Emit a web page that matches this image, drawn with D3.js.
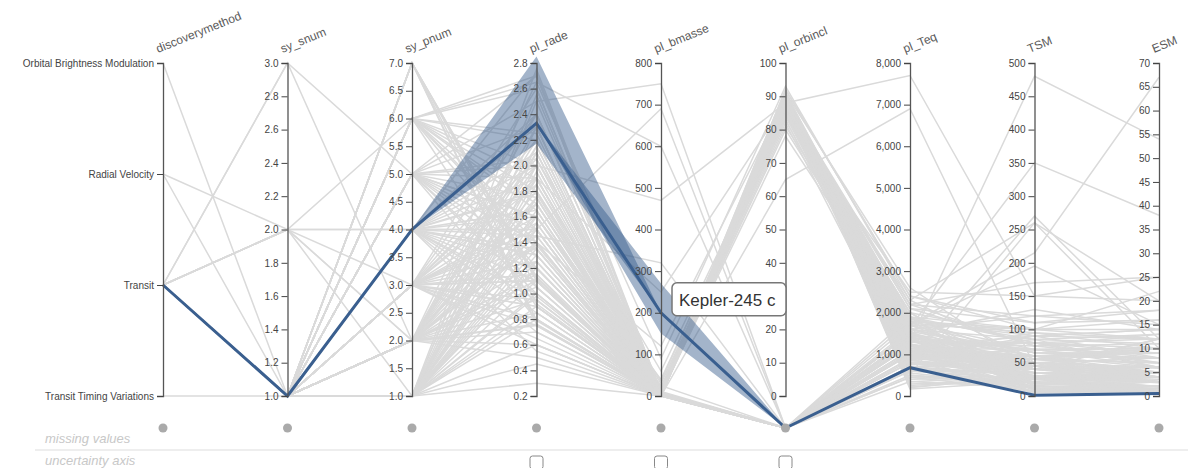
<!DOCTYPE html>
<html>
<head>
<meta charset="utf-8">
<script src="https://cdn.jsdelivr.net/npm/d3@7"></script>
<style>
  body { margin: 0; background: #fff; }
  svg { display: block; font-family: "Liberation Sans", Arial, sans-serif; }
</style>
</head>
<body>
<div id="my_dataviz"></div>
<script>
// axes, left to right
var dims = ["discoverymethod", "sy_snum", "sy_pnum", "pl_rade", "pl_bmasse", "pl_orbincl", "pl_Teq", "TSM", "ESM"];
var discoveryMethods = ["Orbital Brightness Modulation", "Radial Velocity", "Transit", "Transit Timing Variations"];

// tick labels per axis
var snumTicks = [1.0, 1.2, 1.4, 1.6, 1.8, 2.0, 2.2, 2.4, 2.6, 2.8, 3.0];
var pnumTicks = [1.0, 1.5, 2.0, 2.5, 3.0, 3.5, 4.0, 4.5, 5.0, 5.5, 6.0, 6.5, 7.0];
var radeTicks = [0.2, 0.4, 0.6, 0.8, 1.0, 1.2, 1.4, 1.6, 1.8, 2.0, 2.2, 2.4, 2.6, 2.8];
var bmasseTicks = [0, 100, 200, 300, 400, 500, 600, 700, 800];
var orbinclTicks = [0, 10, 20, 30, 40, 50, 60, 70, 80, 90, 100];
var teqTicks = [0, 1000, 2000, 3000, 4000, 5000, 6000, 7000, 8000];
var tsmTicks = [0, 50, 100, 150, 200, 250, 300, 350, 400, 450, 500];
var esmTicks = [0, 5, 10, 15, 20, 25, 30, 35, 40, 45, 50, 55, 60, 65, 70];

// one column per axis, row 0 is the selected planet (null = missing value)
var methodIdx = [
  2, 0, 3, 1, 1, 2, 2, 2, 2, 2, 2, 2, 2,
  2, 2, 2, 2, 2, 2, 2,
  2, 2, 2, 2, 2, 2, 2, 2, 2,
  2, 2, 2, 2, 2, 2, 2, 2, 2,
  2, 2, 2, 2, 2, 2, 2, 2, 2, 2, 2,
  2, 2, 2, 2, 2, 2, 2, 2, 2, 2, 2,
  2, 2, 2, 2, 2, 2, 2, 2, 2, 2, 2, 2,
  2, 2, 2, 2, 2, 2, 2, 2, 2, 2, 2, 2, 2, 2, 2, 2,
  2, 2, 2, 2, 2, 2, 2, 2, 2, 2, 2, 2, 2, 2, 2, 2,
  2, 2, 2, 2, 2, 2, 2, 2, 2, 2, 2, 2, 2, 2, 2, 2, 2, 2, 2, 2,
  2, 2, 2, 2, 2, 2, 2, 2, 2, 2, 2, 2, 2, 2, 2, 2, 2, 2, 2, 2];
var snum = [
  1, 1, 1, 1, 2, 3, 3, 2, 2, 2, 2, 2, 2,
  1, 1, 1, 1, 1, 1, 1,
  1, 1, 1, 1, 1, 1, 1, 1, 1,
  1, 1, 1, 1, 1, 1, 1, 1, 1,
  1, 1, 1, 1, 1, 1, 1, 1, 1, 1, 1,
  1, 1, 1, 1, 1, 1, 1, 1, 1, 1, 1,
  1, 1, 1, 1, 1, 1, 1, 1, 1, 1, 1, 1,
  1, 1, 1, 1, 1, 1, 1, 1, 1, 1, 1, 1, 1, 1, 1, 1,
  1, 1, 1, 1, 1, 1, 1, 1, 1, 1, 1, 1, 1, 1, 1, 1,
  1, 1, 1, 1, 1, 1, 1, 1, 1, 1, 1, 1, 1, 1, 1, 1, 1, 1, 1, 1,
  1, 1, 1, 1, 1, 1, 1, 1, 1, 1, 1, 1, 1, 1, 1, 1, 1, 1, 1, 1];
var pnum = [
  4, 2, 1, 3, 4, 5, 2, 6, 4, 3, 2, 1, 2,
  7, 7, 7, 7, 7, 7, 7,
  6, 6, 6, 6, 6, 6, 6, 6, 6,
  5, 5, 5, 5, 5, 5, 5, 5, 5,
  4, 4, 4, 4, 4, 4, 4, 4, 4, 4, 4,
  3, 3, 3, 3, 3, 3, 3, 3, 3, 3, 3,
  2, 2, 2, 2, 2, 2, 2, 2, 2, 2, 2, 2,
  1, 1, 1, 1, 1, 1, 1, 1, 1, 1, 1, 1, 1, 1, 1, 1,
  2, 3, 4, 5, 6, 1, 2, 3, 4, 5, 1, 2, 6, 1, 3, 4,
  1, 2, 3, 4, 5, 6, 1, 2, 3, 4, 5, 6, 1, 2, 3, 4, 1, 2, 3, 1,
  1, 2, 3, 4, 5, 6, 2, 3, 4, 5, 1, 2, 3, 4, 1, 2, 3, 1, 2, 4];
var rade = [
  2.33, 0.76, 1.2, 1.1, 1.5, 1.6, 2.1, 2.0, 1.3, 0.9, 1.7, 2.5, 1.4,
  1.12, 1.10, 0.79, 0.92, 1.05, 1.13, 0.76,
  2.70, 2.65, 2.60, 2.20, 1.90, 1.50, 1.20, 0.90, 1.80,
  2.70, 2.50, 2.30, 2.00, 1.60, 1.40, 1.00, 0.80, 1.90,
  2.72, 2.40, 2.10, 1.80, 1.50, 1.20, 1.00, 0.70, 0.55, 2.00, 1.30,
  2.60, 2.20, 1.90, 1.60, 1.35, 1.10, 0.90, 0.75, 0.60, 1.45, 2.40,
  2.65, 2.30, 2.00, 1.70, 1.50, 1.25, 1.05, 0.85, 0.70, 0.50, 1.90, 1.60,
  2.55, 2.30, 2.10, 1.85, 1.60, 1.40, 1.20, 1.00, 0.80, 0.60, 0.30, 0.45, 1.75, 1.50, 2.00, 1.10,
  1.80, 1.70, 1.60, 1.20, 1.40, 1.90, 2.20, 0.95, 0.85, 1.75, 2.75, 1.15, 1.65, 1.30, 2.05, 1.45,
  1.95, 1.45, 1.15, 0.95, 2.05, 1.35, 0.85, 2.15, 1.25, 1.65, 1.05, 2.25, 1.55, 0.95, 1.85, 1.35, 2.15, 1.75, 0.65, 1.25,
  0.90, 1.10, 1.50, 1.90, 1.30, 1.70, 2.40, 0.80, 2.30, 1.50, 1.65, 0.60, 2.00, 1.10, 1.35, 0.75, 1.55, 0.98, 1.38, 1.78];
var bmasse = [
  200, 0.44, 3.0, 5.0, 8.0, 6.0, 9.0, 7.0, 3.0, 1.0, 5.0, 8.0, 4.0,
  1.37, 1.31, 0.39, 0.69, 1.04, 1.32, 0.33,
  8.5, 600, 7.0, 5.5, 18, 3.0, 2.0, 1.0, 4.5,
  9.0, 750, 6.5, 5.0, 25, 3.0, 1.0, 0.6, 4.5,
  10, 7.5, 6.0, 30, 3.5, 2.0, 1.2, 0.4, 0.2, 470, 2.5,
  9.0, 6.0, 5.0, 40, 2.8, 1.5, 0.8, 0.5, 0.3, 320, 8.0,
  90, 7.0, 5.0, 22, 3.0, 2.0, 1.2, 0.7, 0.4, 0.15, 250, 3.5,
  9.0, 7.5, 6.0, 35, 3.5, 3.0, 2.0, 1.0, 0.6, 0.3, 0.05, 0.1, 4.0, 690, 5.0, 1.5,
  4.5, 15, 3.8, 2.2, 120, 5.0, 6.0, 1.0, 0.7, 4.2, 11, 1.8, 3.8, 2.4, 60, 3.2,
  5, 3, 1.5, 0.9, 6, 2.6, 0.6, 7, 2.2, 4, 1.1, 7.5, 3.5, 0.9, 5, 2.6, 7, 4.5, 0.35, 2.2,
  0.8, 1.3, 3, 5, 2.3, 4.2, 8, 0.6, 7.5, 3.2, 4.2, 0.3, 5.5, 1.4, 2.6, 0.5, 3.5, 1.0, 2.7, 4.5];
var orbincl = [
  null, 65, 88, null, null, 88, 89, 89, 88, null, 87, null, 86,
  89.7, 89.8, 89.9, 89.7, 89.9, 89.9, 89.9,
  89, null, 88, 91, 87, null, 90, 85, null,
  88.5, null, 89, 84, null, 90, 87, null, 86,
  89, null, 88, 83, 89.5, null, 90, 86, null, 88, 92,
  90, null, 88, 85, null, 89, 91, null, 87, null, 82,
  93, null, 89, 86, null, 88, null, 90, 84, null, 88, 80,
  89, null, 88, 87, null, 90, 85, null, 91, 86, null, 89, 88, null, 83, null,
  89, 87, null, 88, 89, 92, 78, null, 90, 81, null, 89.5, null, 88, 85, 91,
  88, 89, null, 87, 90, null, 86, 89, 88, null, 91, 85, 88, null, 89, 87, null, 90, 88, 84,
  89, null, 88, 87, null, 90, 86, 89, null, 88, 85, null, 89, 91, 88, null, 87, 89, null, 88];
var teq = [
  680, 6900, 800, 600, 900, 1000, 700, 1200, 900, 500, 1400, 1800, 1100,
  400, 342, 288, 251, 219, 199, 167,
  1500, 1100, 1300, 900, 2200, 800, 600, 1700, 1400,
  1200, 1500, 1000, 2500, 700, 1900, 1100, 450, 1600,
  800, 1300, 2100, 1000, 1600, 700, 1250, 500, 900, 1450, 2400,
  1700, 1100, 900, 2000, 650, 1350, 550, 1000, 1800, 1200, 750,
  2300, 1000, 1500, 1900, 800, 1150, 600, 1400, 2000, 700, 1050, 1650,
  1300, 1700, 900, 2200, 1000, 1600, 700, 1200, 2600, 1450, 1900, 1100, 7700, 1350, 1000, 450,
  2100, 1300, 1050, 850, 1000, 2400, 1700, 350, 1550, 1850, 1250, 980, 1200, 520, 1150, 1750,
  1200, 900, 1500, 700, 1800, 1100, 2000, 1300, 600, 1400, 950, 1700, 1050, 800, 2200, 1250, 1600, 900, 1900, 1150,
  500, 1350, 1000, 1750, 850, 1450, 1200, 650, 1550, 1100, 2300, 1400, 950, 1650, 800, 1250, 1900, 1000, 1500, 1200];
var tsm = [
  1, 45, 30, 40, 60, 40, 50, 30, 90, 20, 70, 100, 55,
  28, 30, 25, 27, 28, 31, 22,
  60, 10, 80, 45, 120, 35, 25, 40, 70,
  90, 20, 55, 150, 30, 80, 20, 8, 65,
  45, 75, 110, 50, 60, 30, 20, 12, 6, 15, 100,
  195, 80, 70, 90, 35, 40, 15, 10, 18, 25, 60,
  260, 85, 130, 100, 40, 45, 25, 20, 15, 5, 60, 350,
  480, 215, 270, 170, 60, 120, 50, 35, 40, 20, 2, 6, 150, 12, 95, 30,
  75, 55, 45, 35, 45, 110, 65, 12, 25, 85, 40, 30, 50, 260, 70, 95,
  60, 45, 30, 20, 90, 50, 25, 80, 35, 55, 30, 100, 60, 18, 75, 45, 85, 55, 10, 40,
  15, 35, 50, 70, 40, 60, 80, 15, 65, 45, 55, 8, 70, 25, 40, 12, 50, 20, 45, 60];
var esm = [
  0.5, 12, 5, 6, 8, 5, 4, 4, 12, 2, 10, 14, 7,
  3.5, 2.8, 1.2, 1.0, 0.9, 0.7, 0.3,
  9, 1, 6, 3, 18, 4, 2, 6, 10,
  8, 2, 5, 25, 3, 12, 3, 0.5, 9,
  3, 8, 16, 6, 10, 3, 4, 1, 2, 2, 22,
  15, 7, 6, 14, 3, 5, 1, 2, 5, 3, 4,
  20, 6, 14, 16, 4, 6, 2, 4, 5, 1, 5, 38,
  54, 67, 12, 25, 6, 15, 5, 4, 12, 4, 0.5, 1, 20, 1, 10, 2,
  11, 7, 5, 3, 4, 18, 8, 0.8, 5, 13, 3, 3, 6, 10, 7, 12,
  8, 5, 4, 2, 14, 6, 5, 10, 3, 7, 4, 12, 8, 2, 13, 6, 11, 7, 3, 5,
  1, 5, 6, 10, 4, 8, 9, 2, 9, 6, 10, 1.5, 9, 4, 5, 1.5, 8, 3, 6, 8];

// selected planet and its uncertainty ranges
var selectedName = "Kepler-245 c";
var selectedIndex = 0;
var radeRange = [2.17, 2.85];
var bmasseRange = [150, 270];

var width = 1188, height = 468;
var yTop = 63, yBottom = 396, yMissing = 428;

var svg = d3.select("#my_dataviz")
    .append("svg")
    .attr("width", width)
    .attr("height", height);

var x = d3.scalePoint().domain(dims).range([163, 1159]);

var y = {
    discoverymethod: d3.scalePoint().domain(discoveryMethods).range([yTop, yBottom]),
    sy_snum: d3.scaleLinear().domain([1, 3]).range([yBottom, yTop]),
    sy_pnum: d3.scaleLinear().domain([1, 7]).range([yBottom, yTop]),
    pl_rade: d3.scaleLinear().domain([0.2, 2.8]).range([yBottom, yTop]),
    pl_bmasse: d3.scaleLinear().domain([0, 800]).range([yBottom, yTop]),
    pl_orbincl: d3.scaleLinear().domain([0, 100]).range([yBottom, yTop]),
    pl_Teq: d3.scaleLinear().domain([0, 8000]).range([yBottom, yTop]),
    TSM: d3.scaleLinear().domain([0, 500]).range([yBottom, yTop]),
    ESM: d3.scaleLinear().domain([0, 70]).range([yBottom, yTop])
};

var tickSets = {
    sy_snum: [snumTicks, ".1f"], sy_pnum: [pnumTicks, ".1f"], pl_rade: [radeTicks, ".1f"],
    pl_bmasse: [bmasseTicks, "d"], pl_orbincl: [orbinclTicks, "d"], pl_Teq: [teqTicks, ","],
    TSM: [tsmTicks, "d"], ESM: [esmTicks, "d"]
};

var rows = methodIdx.map(function (m, i) {
    return {
        discoverymethod: discoveryMethods[m], sy_snum: snum[i], sy_pnum: pnum[i],
        pl_rade: rade[i], pl_bmasse: bmasse[i], pl_orbincl: orbincl[i],
        pl_Teq: teq[i], TSM: tsm[i], ESM: esm[i]
    };
});

function py(dim, v) {
    return v == null ? yMissing : y[dim](v);
}

var line = d3.line()
    .x(function (d) { return d[0]; })
    .y(function (d) { return d[1]; });

function path(d) {
    return line(dims.map(function (k) { return [x(k), py(k, d[k])]; }));
}

// background lines
svg.append("g")
    .selectAll("path")
    .data(rows.filter(function (d, i) { return i !== selectedIndex; }))
    .enter()
    .append("path")
    .attr("d", path)
    .style("fill", "none")
    .style("stroke", "#dadada")
    .style("stroke-width", 1.5);

// uncertainty bands of the selected planet
var sel = rows[selectedIndex];
var bands = [
    [[x("sy_pnum"), py("sy_pnum", sel.sy_pnum)], [x("pl_rade"), y.pl_rade(radeRange[1])],
     [x("pl_bmasse"), py("pl_bmasse", sel.pl_bmasse)], [x("pl_rade"), y.pl_rade(radeRange[0])]],
    [[x("pl_rade"), py("pl_rade", sel.pl_rade)], [x("pl_bmasse"), y.pl_bmasse(bmasseRange[1])],
     [x("pl_orbincl"), py("pl_orbincl", sel.pl_orbincl)], [x("pl_bmasse"), y.pl_bmasse(bmasseRange[0])]]
];
svg.append("g")
    .selectAll("path")
    .data(bands)
    .enter()
    .append("path")
    .attr("d", function (d) { return line(d) + "Z"; })
    .style("fill", "#33598a")
    .style("fill-opacity", 0.45)
    .style("stroke", "none");

svg.append("path")
    .attr("d", path(sel))
    .style("fill", "none")
    .style("stroke", "#3a5f8f")
    .style("stroke-width", 3);

// axes
dims.forEach(function (k) {
    var axis = d3.axisLeft(y[k]);
    if (tickSets[k]) {
        axis.tickValues(tickSets[k][0]).tickFormat(d3.format(tickSets[k][1]));
    }
    var g = svg.append("g")
        .attr("transform", "translate(" + x(k) + ",0)")
        .attr("color", "#444")
        .call(axis);
    g.attr("font-family", "Liberation Sans, Arial, sans-serif");
    g.select(".domain").attr("stroke", "#555").attr("stroke-width", 1.3);

    svg.append("text")
        .attr("transform", "translate(" + (x(k) - 5) + ",53) rotate(-22)")
        .style("font-size", "12px")
        .style("fill", "#5a5a5a")
        .text(k);

    svg.append("circle")
        .attr("cx", x(k))
        .attr("cy", yMissing)
        .attr("r", 4.5)
        .style("fill", "#aaa");
});

// bottom rows
svg.append("text")
    .attr("x", 45).attr("y", 443)
    .style("font-size", "13px").style("font-style", "italic").style("fill", "#c8c8c8")
    .text("missing values");
svg.append("line")
    .attr("x1", 35).attr("x2", width)
    .attr("y1", 450).attr("y2", 450)
    .style("stroke", "#eee").style("stroke-width", 2);
svg.append("text")
    .attr("x", 45).attr("y", 465)
    .style("font-size", "13px").style("font-style", "italic").style("fill", "#c8c8c8")
    .text("uncertainty axis");

["pl_rade", "pl_bmasse", "pl_orbincl"].forEach(function (k) {
    svg.append("rect")
        .attr("x", x(k) - 6.5).attr("y", 456)
        .attr("width", 13).attr("height", 13)
        .attr("rx", 2.5)
        .style("fill", "#fff").style("stroke", "#888").style("stroke-width", 1);
});

// tooltip
var tx = x("pl_bmasse") + 11, ty = y.pl_bmasse(sel.pl_bmasse) - 30;
var tip = svg.append("g").attr("transform", "translate(" + tx + "," + ty + ")");
tip.append("rect")
    .attr("width", 114).attr("height", 33).attr("rx", 5)
    .style("fill", "#fff").style("stroke", "#777").style("stroke-width", 1.5);
tip.append("text")
    .attr("x", 7).attr("y", 23)
    .style("font-size", "17px").style("fill", "#333")
    .text(selectedName);
</script>
</body>
</html>
